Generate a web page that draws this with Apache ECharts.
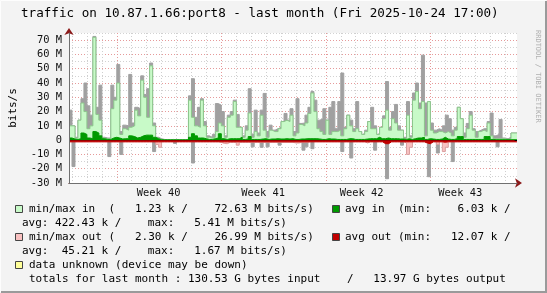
<!DOCTYPE html>
<html><head><meta charset="utf-8">
<script src="https://cdn.jsdelivr.net/npm/echarts@6/dist/echarts.min.js"></script>
<style>html,body{margin:0;padding:0;background:#f3f3f3}#c{width:547px;height:293px}</style>
</head><body><div id="c"></div>
<script>
// values in M bits/s, one per time bin (~4.8 h each), 150 bins over the month
const inMax = [21,10,2,14,29,40,24,17.5,72.6,23, 38.5,2,1.5,1.5,38.5,30,53,6,10.5,10,
46,12,23,22,45,32,36,54,12,2, 1,0.5,0.3,0.3,0.5,0.3,0.3,0.3,0.3,0.5,
31,43,16,23,29,13,3,2,4,25.6, 24.5,20,3,17.5,20,28,18,9,3,10,
36,4,21,5,21,32.7,6,10.5,7,8, 9,13,18.7,14,22,6,29,11.7,12,17.5,
23,34,28,14,15,22,14,23,27,8, 27,47,9,17.5,14,8,27,6,4,7,
13,23,10,4,9,17,41,9,20,25, 10,7,2,27,3,33,40,26,59.5,26,
27,12,7,8,7,10,17.5,15,7,9, 23,15,5,11.7,20,8,6,7,8,8,
13,19,3,4,14.5,1.5,1,2,5,5];
const inArea = [10,10,1.5,14,26,20,8,10,72,18, 14,1.5,1,1,22,28,40,4,8,7,
9,10,21,17,42,30,16,52,10,1.5, 0.5,0.3,0.2,0.2,0.2,0.2,0.2,0.2,0.2,0.3,
28,16,10,9,28,10,2,1.5,2,6, 12,10,2,16,17.5,27,9,9,2,7,
19,2,6,3,17.5,7,2,7,6,6, 8,13,14,13,17.5,3,5,11,10,12,
18.7,33,20,8,6,4,14,4,6,6, 7,3,8,17.5,10,6,8,6,4,6,
13,8,8,4,9,15,21,7,15,12, 7,7,1,17.5,2,28,34,22,27,3,
27,7,5,6,6,5,6,5,3,7, 23,15,2,8,17.5,7,2,6,7,6,
12,3,1,1,1,1,0.5,1,5,5];
const inAvg = [1.5,0.8,0.5,1,5,4,1.5,1,6,5, 3,1,0.5,0.5,1.5,2,1.5,0.8,1,1,
3,2.5,1.5,2,3,3.5,3.5,3.5,2,1, 0.3,0.2,0.2,0.2,0.2,0.2,0.2,0.2,0.2,0.2,
2,4.5,3,1.5,1.5,1,0.5,0.5,1,1.5, 4.5,1,0.5,1,1,1,1,2,0.5,0.8,
2.5,0.5,0.5,0.5,0.8,1,0.5,0.8,0.8,1, 0.8,0.8,1,0.8,1,0.5,0.5,0.8,0.8,1,
1,1,1,0.8,0.5,0.5,1,0.8,0.8,0.5, 0.5,0.5,0.5,1,1,0.5,0.5,0.5,0.5,0.8,
1,1,1,2,1,1,1.5,1,1,1, 0.8,0.8,0.5,1,0.5,1,1.5,1.5,2,0.5,
1,0.8,0.5,0.5,0.8,2,0.8,0.5,0.5,1, 2.5,2.5,0.5,0.5,0.5,0.5,0.5,0.5,0.5,2.5,
2.5,0.5,0.3,0.3,0.3,0.3,0.3,0.3,0.3,0.3];
const outMax = [0.5,18.5,0.5,0.5,0.5,0.5,0.5,0.5,0.5,0.5, 0.5,0.5,0.5,11.5,0.5,0.5,0.5,10,0.5,0.5,
0.5,0.5,0.5,0.5,0.5,0.5,0.5,0.5,8,0.5, 0.5,0.5,0.5,0.5,0.5,2.3,0.5,0.5,0.5,0.5,
0.5,16,0.5,0.5,0.5,0.5,0.5,0.5,0.5,0.5, 0.5,0.5,0.5,0.5,0.5,0.5,0.5,0.5,0.5,0.5,
0.5,4.7,0.5,0.5,5,0.5,4.7,0.5,0.5,0.5, 3.5,0.5,0.5,0.5,0.5,0.5,0.5,0.5,7,4.7,
0.5,6,0.5,0.5,0.5,0.5,0.5,0.5,0.5,0.5, 0.5,8,0.5,0.5,12.5,0.5,0.5,0.5,0.5,0.5,
0.5,0.5,7,0.5,0.5,0.5,27,0.5,0.5,0.5, 0.5,3.5,0.5,9.3,0.5,0.5,0.5,0.5,0.5,0.5,
25.6,0.5,0.5,9,0.5,0.5,0.5,0.5,15,0.5, 0.5,0.5,0.5,0.5,0.5,0.5,0.5,0.5,0.5,0.5,
0.5,0.5,0.5,4.7,0.5,0.5,0.5,0.5,0.5,0.5];
const outArea = [1,1,1,1,1,1,1,1,1,1, 1,1,1,1,1,1,1,1,1,1,
1,1,1,1,1,1,1,1,1,3, 5,1,1,1,1,1,1,1,1,1,
1,1,1,1,1,1,1,1,1,1, 1.5,2.3,2.5,1.5,1.5,1.5,3.5,1.5,1.5,1.5,
1.5,1.5,1.5,1.5,1.5,1.5,1.5,1.5,1.5,1.5, 1.5,1.5,1.5,1.5,1.5,2,2,1.5,1.5,1.5,
1,1,1,1,1,1,1,1,1,1, 1,1,1,1,1,1,1,1,1,2,
1,1,1,1,1,1,1,1,1,1, 1,1,2,10,5,1,1,1,1,2,
1,1,1,3,1,8,5,1,1,1, 1,1,1,1,1,1,1,1,1,1,
1,1,1,1,1,1,1,1,1,1];
const outAvg = [1.2,1.2,1.2,1.2,1.2,1.2,1.2,1.2,1.2,1.2, 1.2,1.2,1.2,1.2,1.2,1.2,1.2,1.2,1.2,1.2,
1.2,1.2,1.2,1.2,1.2,1.2,1.2,1.2,1.2,1.2, 1.2,1.2,1.2,1.2,1.2,1.2,1.2,1.2,1.2,1.2,
1.2,1.2,1.2,1.2,1.2,1.2,1.2,1.2,1.2,1.2, 1.2,1.2,1.2,1.2,1.2,1.2,1.2,1.2,1.2,1.2,
1.2,1.2,1.2,1.2,1.2,1.2,1.2,1.2,1.2,1.2, 1.2,1.2,1.2,1.2,1.2,1.2,1.2,1.2,1.2,1.2,
1.2,1.2,1.2,1.2,1.2,1.2,1.2,1.2,1.2,1.2, 1.2,1.2,1.2,1.2,1.2,1.2,1.2,1.2,1.2,1.2,
1.2,1.2,1.2,1.2,1.2,2.5,2.5,1.2,1.2,1.2, 1.2,1.2,1.2,1.2,1.2,1.2,1.2,1.2,1.2,2,
2.5,1.2,1.2,1.2,1.2,1.5,1.2,1.2,1.2,1.2, 1.2,1.2,1.2,1.2,1.2,1.2,1.2,1.2,1.2,1.2,
1.2,1.2,1.2,1.2,1.2,1.2,1.2,1.2,1.2,1.2];

const weekLabels = ['Week 40','Week 41','Week 42','Week 43'];
const weekLabelBins = [30, 65, 98, 131];
const dayFirstBin = 1, binsPerDay = 5, weekFirstBin = 16, binsPerWeek = 35;

const title = 'traffic on 10.87.1.66:port8 - last month (Fri 2025-10-24 17:00)';
const legendRows = [
  'min/max in  (   1.23 k /    72.63 M bits/s)',
  'avg: 422.43 k /    max:   5.41 M bits/s)',
  'min/max out (   2.30 k /    26.99 M bits/s)',
  'avg:  45.21 k /    max:   1.67 M bits/s)',
  'data unknown (device may be down)',
  'totals for last month : 130.53 G bytes input    /   13.97 G bytes output'
];
const legendRight = ['avg in  (min:    6.03 k /', 'avg out (min:   12.07 k /'];

const C = {
  inArea:'#c8fac8', inLine:'#8cc68c', grey:'#a0a0a0', inAvg:'#009a00',
  outArea:'#f8c0c0', outLine:'#d9a0a0', outAvg:'#c00000', unknown:'#ffff99'
};

const n = inMax.length;
const cats = Array.from({length: n + 1}, (_, i) => String(i));
const ext = a => a.concat([a[a.length - 1]]);
const neg = a => ext(a).map(v => -v);
const isWeek = i => i >= weekFirstBin && (i - weekFirstBin) % binsPerWeek === 0;
const isDay = i => i >= dayFirstBin && (i - dayFirstBin) % binsPerDay === 0 && !isWeek(i);

const mono = '"DejaVu Sans Mono", monospace';
const chart = echarts.init(document.getElementById('c'), null, {renderer:'canvas'});

function stepSeries(name, data, fill, line, lw, z, extra) {
  return Object.assign({
    name, type:'line', step:'end', data, symbol:'none', showSymbol:false,
    z, silent:true, animation:false, sampling:null,
    lineStyle:{color:line, width:lw},
    areaStyle: fill ? {color:fill, opacity:1} : undefined
  }, extra || {});
}

const baseCat = {type:'category', data:cats, boundaryGap:false, position:'bottom', gridIndex:0};
const baseVal = {type:'value', min:-30, max:75, interval:5, position:'left'};

const g = [];
g.push({type:'polyline', shape:{points:[[0.5,292],[0.5,0.5],[546,0.5]]}, style:{stroke:'#fdfdfd', lineWidth:1, fill:null}, z:100});
g.push({type:'polyline', shape:{points:[[1,292],[546,292],[546,1]]}, style:{stroke:'#9a9a9a', lineWidth:2, fill:null}, z:100});
g.push({type:'text', x:21, y:14, style:{text:title, font:'12.6px ' + mono, fill:'#000', verticalAlign:'middle'}, z:100});
g.push({type:'text', x:538, y:30, rotation:-Math.PI/2, style:{text:'RRDTOOL / TOBI OETIKER', font:'7px ' + mono, fill:'#b0b0b0', verticalAlign:'middle', align:'left'}, z:100});
const rowY = [209, 223, 237, 251, 265, 279];
const rowX = [29, 22, 29, 22, 29, 29];
legendRows.forEach((t, i) => g.push({type:'text', x:rowX[i], y:rowY[i], style:{text:t, font:'11px ' + mono, fill:'#000', verticalAlign:'middle'}, z:100}));
legendRight.forEach((t, i) => g.push({type:'text', x:345, y:rowY[i*2], style:{text:t, font:'11px ' + mono, fill:'#000', verticalAlign:'middle'}, z:100}));
const sq = (x, y, c) => g.push({type:'rect', shape:{x:x+0.5, y:y-3.5, width:7, height:7}, style:{fill:c, stroke:'#444', lineWidth:1}, z:100});
sq(15, rowY[0], C.inArea); sq(332, rowY[0], C.inAvg);
sq(15, rowY[2], C.outArea); sq(332, rowY[2], C.outAvg);
sq(15, rowY[4], C.unknown);

chart.setOption({
  animation:false,
  backgroundColor:'#f3f3f3',
  grid:{left:67, top:33, width:450, height:150, show:true, backgroundColor:'#ffffff', borderWidth:0, containLabel:false},
  xAxis:[
    Object.assign({}, baseCat, {
      axisLine:{show:false, onZero:false}, axisTick:{show:false},
      axisLabel:{interval:i => weekLabelBins.includes(i), formatter:(v, i) => weekLabels[weekLabelBins.indexOf(i)] || '',
        fontFamily:mono, fontSize:10.4, color:'#111', margin:5},
      splitLine:{show:true, interval:i => isDay(i), lineStyle:{color:'#cfcfcf', width:1, type:[1,2]}}
    }),
    Object.assign({}, baseCat, {
      axisLine:{show:false, onZero:false}, axisTick:{show:false}, axisLabel:{show:false},
      splitLine:{show:true, interval:i => isWeek(i), lineStyle:{color:'#e69a9a', width:1, type:[1,2]}}
    }),
    Object.assign({}, baseCat, {
      z:6, axisLine:{show:true, onZero:false, symbol:['none','arrow'], symbolSize:[7,7], symbolOffset:[0,5], lineStyle:{color:'#8b1a1a', width:1}},
      axisTick:{show:false}, axisLabel:{show:false}, splitLine:{show:false}
    }),
    Object.assign({}, baseCat, {
      z:7, axisLine:{show:true, onZero:false, lineStyle:{color:'#707070', width:1}},
      axisTick:{show:false}, axisLabel:{show:false}, splitLine:{show:false}
    })
  ],
  yAxis:[
    Object.assign({}, baseVal, {
      name:'bits/s', nameLocation:'middle', nameGap:50, nameRotate:90,
      nameTextStyle:{fontFamily:mono, fontSize:11, color:'#000'},
      axisLine:{show:false}, axisTick:{show:false},
      axisLabel:{formatter:v => (v % 10 !== 0) ? '' : (v === 0 ? '0' : v + ' M'), fontFamily:mono, fontSize:10.4, color:'#111', margin:7},
      splitLine:{show:true, lineStyle:{color:['#e69a9a','#d2d2d2'], width:1, type:[1,2]}}
    }),
    Object.assign({}, baseVal, {
      z:6, axisLine:{show:true, symbol:['none','arrow'], symbolSize:[7,7], symbolOffset:[0,5], lineStyle:{color:'#8b1a1a', width:1}},
      axisTick:{show:false}, axisLabel:{show:false}, splitLine:{show:false}
    }),
    Object.assign({}, baseVal, {
      z:7, axisLine:{show:true, lineStyle:{color:'#707070', width:1}},
      axisTick:{show:false}, axisLabel:{show:false}, splitLine:{show:false}
    })
  ],
  series:[
    stepSeries('max in peak', ext(inMax), C.grey, C.grey, 1, 1),
    stepSeries('min/max in', ext(inArea), C.inArea, C.inLine, 1, 2),
    stepSeries('avg in', ext(inAvg), C.inAvg, C.inAvg, 1, 4),
    stepSeries('max out peak', neg(outMax), C.grey, C.grey, 1, 1),
    stepSeries('min/max out', neg(outArea), C.outArea, C.outLine, 1, 2),
    stepSeries('avg out', neg(outAvg), C.outAvg, C.outAvg, 1, 5, {
      markLine:{silent:true, symbol:['none','none'], label:{show:false}, animation:false,
        lineStyle:{color:'#000', width:1, type:'solid'}, data:[{yAxis:0}]}
    })
  ],
  graphic:g
});
</script></body></html>
